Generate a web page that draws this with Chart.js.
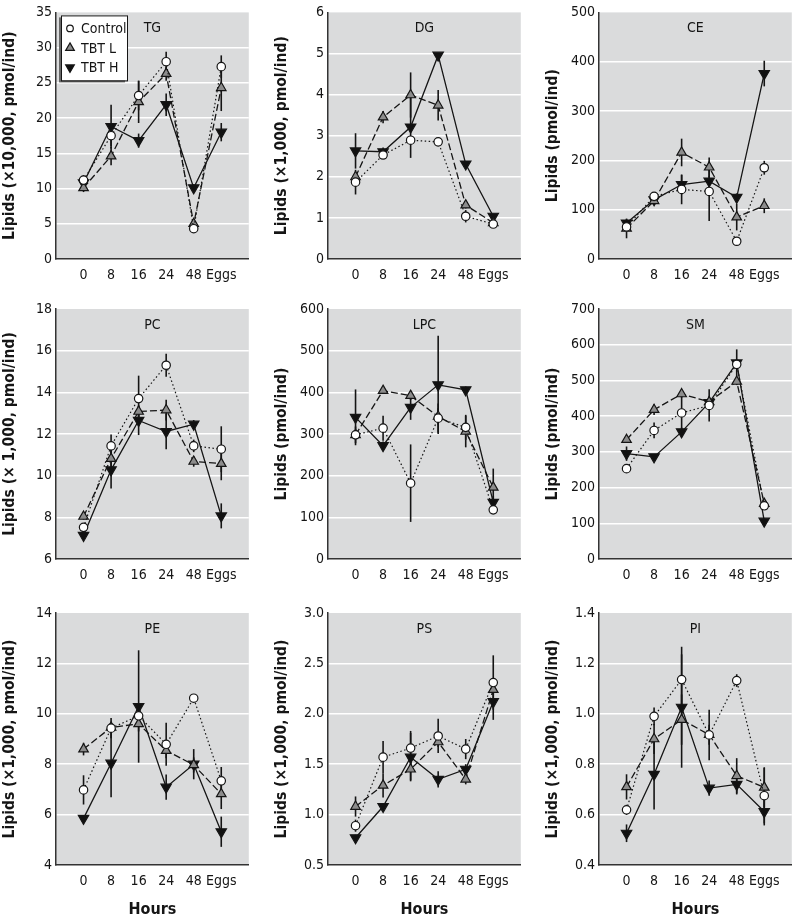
<!DOCTYPE html>
<html>
<head>
<meta charset="utf-8">
<script src="https://cdn.jsdelivr.net/npm/chart.js@4.4.0/dist/chart.umd.min.js"></script>
<style>
  html, body { margin: 0; padding: 0; background: #fff; }
  #wrap { position: relative; width: 800px; height: 920px; overflow: hidden; }
  #wrap canvas { position: absolute; }
</style>
</head>
<body>
<div id="wrap"></div>
<script>
// x categories and series names
const hours = ['0', '8', '16', '24', '48', 'Eggs'];
const seriesNames = ['Control', 'TBT L', 'TBT H'];

// TG
const tgControl = [11.2, 17.5, 23.2, 28.0, 4.3, 27.3];
const tgControlErr = [0.7, 1.5, 2.1, 1.4, 0.4, 1.6];
const tgTbtL = [10.1, 14.6, 22.3, 26.3, 5.0, 24.3];
const tgTbtLErr = [0.6, 1.3, 3.0, 1.0, 0.5, 3.3];
const tgTbtH = [10.8, 18.8, 16.8, 21.9, 10.1, 18.0];
const tgTbtHErr = [0.8, 3.1, 1.0, 1.6, 0.5, 1.3];

// DG
const dgControl = [1.87, 2.53, 2.89, 2.85, 1.04, 0.85];
const dgControlErr = [0.3, 0.08, 0.1, 0.05, 0.15, 0.05];
const dgTbtL = [2.0, 3.45, 3.99, 3.74, 1.31, 0.88];
const dgTbtLErr = [0.1, 0.15, 0.55, 0.37, 0.08, 0.05];
const dgTbtH = [2.63, 2.61, 3.21, 4.96, 2.31, 1.04];
const dgTbtHErr = [0.43, 0.1, 0.75, 0.05, 0.05, 0.05];

// CE
const ceControl = [65, 127, 141, 137, 36, 185];
const ceControlErr = [8, 8, 30, 60, 5, 14];
const ceTbtL = [62, 118, 216, 186, 85, 108];
const ceTbtLErr = [20, 8, 28, 20, 27, 15];
const ceTbtH = [73, 120, 151, 158, 125, 376];
const ceTbtHErr = [8, 8, 20, 10, 8, 26];

// PC
const pcControl = [7.52, 11.43, 13.7, 15.3, 11.43, 11.27];
const pcControlErr = [0.15, 0.55, 1.1, 0.55, 0.3, 1.1];
const pcTbtL = [8.04, 10.82, 13.08, 13.15, 10.68, 10.58];
const pcTbtLErr = [0.15, 0.4, 0.3, 0.5, 0.25, 0.8];
const pcTbtH = [7.13, 10.28, 12.65, 12.12, 12.47, 8.07];
const pcTbtHErr = [0.1, 0.9, 0.7, 0.85, 0.2, 0.6];

// LPC
const lpcControl = [298, 314, 182, 338, 316, 118];
const lpcControlErr = [20, 30, 93, 35, 30, 10];
const lpcTbtL = [298, 404, 392, 342, 306, 172];
const lpcTbtLErr = [10, 8, 10, 20, 38, 45];
const lpcTbtH = [340, 272, 364, 418, 406, 136];
const lpcTbtHErr = [67, 10, 30, 118, 8, 15];

// SM
const smControl = [253, 360, 409, 430, 545, 149];
const smControlErr = [8, 22, 50, 45, 10, 8];
const smTbtL = [334, 418, 462, 440, 497, 155];
const smTbtLErr = [8, 15, 10, 15, 10, 8];
const smTbtH = [295, 286, 356, 438, 549, 106];
const smTbtHErr = [20, 8, 12, 10, 38, 8];

// PE
const peControl = [6.98, 9.43, 9.92, 8.79, 10.62, 7.34];
const peControlErr = [0.58, 0.4, 0.3, 0.85, 0.1, 0.55];
const peTbtL = [8.6, 9.46, 9.6, 8.54, 7.97, 6.82];
const peTbtLErr = [0.25, 0.2, 0.3, 0.3, 0.3, 0.6];
const peTbtH = [5.85, 8.04, 10.29, 7.09, 8.0, 5.32];
const peTbtHErr = [0.1, 1.35, 2.23, 0.5, 0.6, 0.6];

// PS
const psControl = [0.89, 1.57, 1.66, 1.78, 1.65, 2.31];
const psControlErr = [0.06, 0.16, 0.17, 0.17, 0.1, 0.27];
const psTbtL = [1.08, 1.29, 1.45, 1.72, 1.35, 2.24];
const psTbtLErr = [0.1, 0.12, 0.11, 0.05, 0.05, 0.05];
const psTbtH = [0.77, 1.08, 1.57, 1.35, 1.45, 2.12];
const psTbtHErr = [0.03, 0.03, 0.24, 0.08, 0.05, 0.18];

// PI
const piControl = [0.619, 0.99, 1.136, 0.916, 1.132, 0.675];
const piControlErr = [0.02, 0.035, 0.1, 0.1, 0.025, 0.11];
const piTbtL = [0.71, 0.9, 0.977, 0.917, 0.754, 0.708];
const piTbtLErr = [0.05, 0.06, 0.1, 0.04, 0.07, 0.08];
const piTbtH = [0.526, 0.76, 1.026, 0.705, 0.72, 0.612];
const piTbtHErr = [0.035, 0.14, 0.24, 0.03, 0.04, 0.055];

const T10k = 'Lipids (\u00d710,000, pmol/ind)';
const T1k = 'Lipids (\u00d71,000, pmol/ind)';
const T1kSp = 'Lipids (\u00d7 1,000, pmol/ind)';
const TPm = 'Lipids (pmol/ind)';

const panels = [
  { name: 'TG', yTitle: T10k, min: 0, max: 35, step: 5, dec: 0, vals: [tgControl, tgTbtL, tgTbtH], errs: [tgControlErr, tgTbtLErr, tgTbtHErr], legend: true },
  { name: 'DG', yTitle: T1k, min: 0, max: 6, step: 1, dec: 0, vals: [dgControl, dgTbtL, dgTbtH], errs: [dgControlErr, dgTbtLErr, dgTbtHErr] },
  { name: 'CE', yTitle: TPm, min: 0, max: 500, step: 100, dec: 0, vals: [ceControl, ceTbtL, ceTbtH], errs: [ceControlErr, ceTbtLErr, ceTbtHErr] },
  { name: 'PC', yTitle: T1kSp, min: 6, max: 18, step: 2, dec: 0, vals: [pcControl, pcTbtL, pcTbtH], errs: [pcControlErr, pcTbtLErr, pcTbtHErr] },
  { name: 'LPC', yTitle: TPm, min: 0, max: 600, step: 100, dec: 0, vals: [lpcControl, lpcTbtL, lpcTbtH], errs: [lpcControlErr, lpcTbtLErr, lpcTbtHErr] },
  { name: 'SM', yTitle: TPm, min: 0, max: 700, step: 100, dec: 0, vals: [smControl, smTbtL, smTbtH], errs: [smControlErr, smTbtLErr, smTbtHErr] },
  { name: 'PE', yTitle: T1k, min: 4, max: 14, step: 2, dec: 0, vals: [peControl, peTbtL, peTbtH], errs: [peControlErr, peTbtLErr, peTbtHErr] },
  { name: 'PS', yTitle: T1k, min: 0.5, max: 3.0, step: 0.5, dec: 1, vals: [psControl, psTbtL, psTbtH], errs: [psControlErr, psTbtLErr, psTbtHErr] },
  { name: 'PI', yTitle: T1k, min: 0.4, max: 1.4, step: 0.2, dec: 1, vals: [piControl, piTbtL, piTbtH], errs: [piControlErr, piTbtLErr, piTbtHErr] },
];

const FONT = "'Liberation Sans Narrow', 'DejaVu Sans Condensed', 'Arial Narrow', sans-serif";
const INK = '#151515';

const colLeft = [0, 272, 543];
const rows = [
  { top: 0, h: 300, padTop: 8, axisH: 41, hours: false },
  { top: 290, h: 300, padTop: 19, axisH: 31, hours: false },
  { top: 580, h: 340, padTop: 33, axisH: 55, hours: true },
];

// series styles
const styles = [
  { pointStyle: 'circle', pointRadius: 4.2, pointBackgroundColor: '#fff', borderDash: [1.5, 2.5], borderWidth: 1.2, pointRotation: 0 },
  { pointStyle: 'triangle', pointRadius: 5.5, pointBackgroundColor: '#8c8c8c', borderDash: [7, 3], borderWidth: 1.3, pointRotation: 0 },
  { pointStyle: 'triangle', pointRadius: 6, pointBackgroundColor: '#111', borderDash: [], borderWidth: 1.3, pointRotation: 180 },
];

// gray plot background
const plotBg = {
  id: 'plotBg',
  beforeDraw(chart) {
    const a = chart.chartArea, ctx = chart.ctx;
    ctx.save();
    ctx.fillStyle = '#dadbdc';
    ctx.fillRect(a.left, a.top, a.right - a.left, a.bottom - a.top);
    ctx.restore();
  }
};

// vertical error bars
const errorBars = {
  id: 'errorBars',
  beforeDatasetsDraw(chart) {
    const ctx = chart.ctx, x = chart.scales.x, y = chart.scales.y;
    ctx.save();
    ctx.strokeStyle = INK;
    ctx.lineWidth = 1.6;
    chart.data.datasets.forEach(ds => {
      ds.errors.forEach((e, i) => {
        const v = ds.data[i].y;
        const px = x.getPixelForValue(i);
        ctx.beginPath();
        ctx.moveTo(px, y.getPixelForValue(v - e));
        ctx.lineTo(px, y.getPixelForValue(v + e));
        ctx.stroke();
      });
    });
    ctx.restore();
  }
};

// panel name + legend box inside the plot area
const panelText = {
  id: 'panelText',
  afterDatasetsDraw(chart, args, opts) {
    const a = chart.chartArea, ctx = chart.ctx;
    ctx.save();
    ctx.fillStyle = INK;
    ctx.font = '14px ' + FONT;
    ctx.textAlign = 'center';
    ctx.textBaseline = 'middle';
    ctx.fillText(opts.name, (a.left + a.right) / 2, a.top + 16);
    if (opts.legend) {
      const bx = a.left + 5, by = a.top + 3, bw = 66, bh = 65;
      ctx.fillStyle = '#666';
      ctx.fillRect(bx - 2, by + 2, bw, bh);
      ctx.fillStyle = '#fff';
      ctx.fillRect(bx, by, bw, bh);
      ctx.strokeStyle = INK;
      ctx.lineWidth = 1;
      ctx.strokeRect(bx + 0.5, by + 0.5, bw, bh);
      ctx.textAlign = 'left';
      ctx.font = '14px ' + FONT;
      chart.data.datasets.forEach((ds, k) => {
        const cy = by + 13 + k * 19.5;
        const st = styles[k];
        ctx.fillStyle = st.pointBackgroundColor;
        ctx.strokeStyle = INK;
        ctx.lineWidth = 1.2;
        Chart.helpers.drawPoint(ctx, {
          pointStyle: st.pointStyle,
          rotation: st.pointRotation,
          radius: k === 0 ? 3.3 : 5,
          borderWidth: 1.2
        }, bx + 9, cy);
        ctx.fillStyle = INK;
        ctx.fillText(ds.label, bx + 20, cy + 1);
      });
    }
    ctx.restore();
  }
};

const wrap = document.getElementById('wrap');

panels.forEach((p, idx) => {
  const r = rows[Math.floor(idx / 3)];
  const cv = document.createElement('canvas');
  cv.width = 256;
  cv.height = r.h;
  cv.style.left = colLeft[idx % 3] + 'px';
  cv.style.top = r.top + 'px';
  wrap.appendChild(cv);

  const datasets = p.vals.map((vals, k) => Object.assign({
    label: seriesNames[k],
    data: vals.map((v, i) => ({ x: i, y: v })),
    errors: p.errs[k],
    borderColor: INK,
    pointBorderColor: INK,
    pointBorderWidth: 1.2,
    pointHoverRadius: 5,
    fill: false,
    tension: 0,
  }, styles[k]));

  new Chart(cv, {
    type: 'line',
    data: { datasets },
    plugins: [plotBg, errorBars, panelText],
    options: {
      responsive: false,
      animation: false,
      devicePixelRatio: 1,
      layout: { padding: { top: r.padTop, right: 2, left: 0, bottom: 0 } },
      plugins: {
        legend: { display: false },
        tooltip: { enabled: false },
        panelText: { name: p.name, legend: !!p.legend },
      },
      scales: {
        x: {
          type: 'linear',
          min: -1,
          max: 6,
          afterBuildTicks: s => { s.ticks = hours.map((h, i) => ({ value: i })); },
          afterFit: s => { s.height = r.axisH; },
          ticks: {
            autoSkip: false,
            maxRotation: 0,
            padding: 8,
            color: INK,
            font: { family: FONT, size: 14 },
            callback: v => hours[v],
          },
          grid: { display: false, drawTicks: false },
          border: { display: true, color: '#333', width: 1.5 },
          title: {
            display: r.hours,
            text: 'Hours',
            color: INK,
            font: { family: FONT, size: 16, weight: 'bold' },
            padding: { top: 0, bottom: 1 },
          },
        },
        y: {
          min: p.min,
          max: p.max,
          afterFit: s => { s.width = 56; },
          ticks: {
            stepSize: p.step,
            padding: 4,
            color: INK,
            font: { family: FONT, size: 14 },
            callback: v => Number(v).toFixed(p.dec),
          },
          grid: {
            drawTicks: false,
            lineWidth: 1.5,
            color: c => (c.tick && (Math.abs(c.tick.value - p.min) < 1e-9 || Math.abs(c.tick.value - p.max) < 1e-9)) ? 'rgba(0,0,0,0)' : '#ffffff',
          },
          border: { display: true, color: '#333', width: 1.5 },
          title: {
            display: true,
            text: p.yTitle,
            color: INK,
            font: { family: FONT, size: 15.5, weight: 'bold' },
            padding: { top: 1, bottom: 0 },
          },
        },
      },
    },
  });
});
</script>
</body>
</html>
